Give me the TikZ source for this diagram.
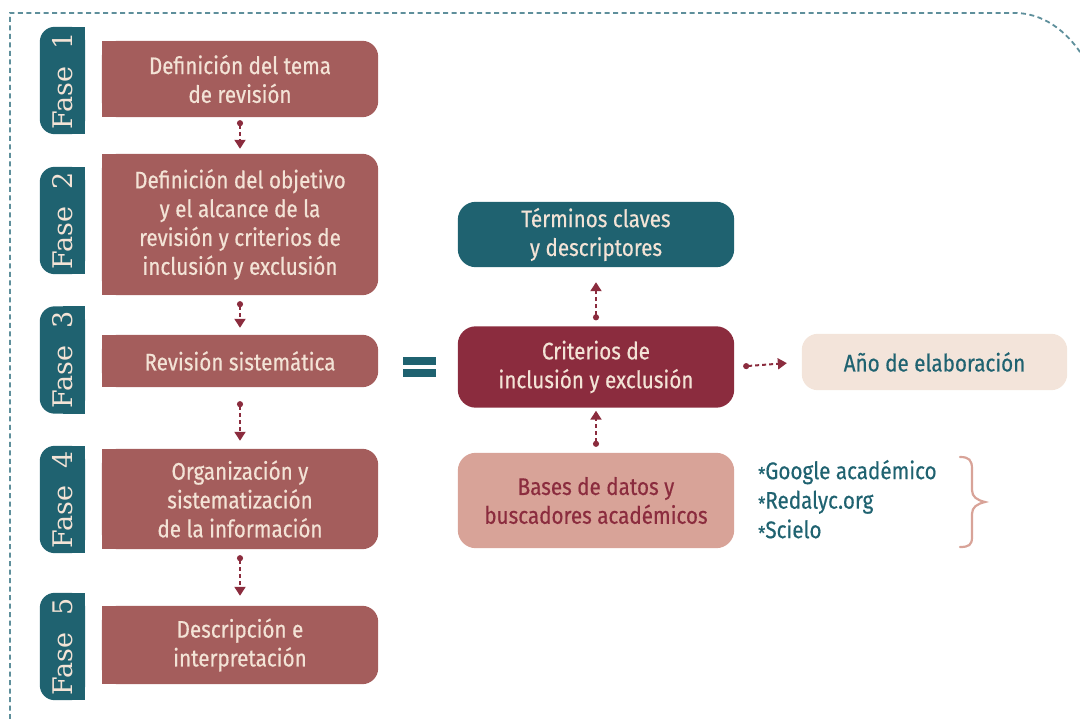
\documentclass[tikz,border=0pt]{standalone}
\usepackage{fontspec}
\setmainfont{Fira Sans}[FakeStretch=0.86,FakeBold=0.5]
\newfontfamily\fasefont{DejaVu Serif}
\usetikzlibrary{arrows.meta}
\definecolor{boxc}{HTML}{A45D5C}
\definecolor{tabc}{HTML}{1F6270}
\definecolor{cream}{HTML}{F3E3D6}
\definecolor{darkred}{HTML}{8B2C3E}
\definecolor{pinkc}{HTML}{D8A398}
\definecolor{beige}{HTML}{F3E4DA}
\definecolor{borderc}{HTML}{5E8F9B}
\pgfdeclarelayer{bg}
\pgfsetlayers{bg,main}
\newcommand\leftsquarefill[3]{\begin{pgfonlayer}{bg}\fill[#2,rounded corners=#3] (#1.north west) rectangle (#1.south east);\fill[#2] (#1.north west) rectangle ([xshift=30pt]#1.south west);\end{pgfonlayer}}
\newcommand\rightsquarefill[3]{\begin{pgfonlayer}{bg}\fill[#2,rounded corners=#3] (#1.north west) rectangle (#1.south east);\fill[#2] (#1.north east) rectangle ([xshift=-22pt]#1.south east);\end{pgfonlayer}}
\newcommand\roundfill[3]{\begin{pgfonlayer}{bg}\fill[#2,rounded corners=#3] (#1.north west) rectangle (#1.south east);\end{pgfonlayer}}
\newcommand\myast{\raisebox{-0.15ex}{\fontsize{19}{19}\selectfont *}}
\tikzset{
  phtext/.style={text=cream, align=center, inner sep=0pt, minimum width=276pt, font=\fontsize{24}{28.8}\selectfont},
  tabnode/.style={text=cream, inner sep=0pt, minimum width=45pt, minimum height=107pt, font=\fasefont\fontsize{27}{27}\selectfont},
  conn/.style={draw=darkred, line width=2pt, dash pattern=on 4pt off 3pt, {Circle[length=6pt,width=6pt]}-{Triangle[length=9pt,width=11pt]}},
  brace/.style={draw=pinkc, line width=2.2pt, line cap=round},
}
\begin{document}
\begin{tikzpicture}[x=1pt,y=-1pt]
\useasboundingbox (0,0) rectangle (1080,719);
% dashed border
\draw[borderc, line width=1.8pt, dash pattern=on 5pt off 3.5pt] (10,719) -- (10,13) -- (1015,13) .. controls (1042,13) and (1066,30) .. (1082,55);

% phase tabs
\node[tabnode] (t1) at (62.5,80.5) {\rotatebox{90}{Fase\ \ 1}};
\rightsquarefill{t1}{tabc}{15pt}
\node[tabnode] (t2) at (62.5,220.5) {\rotatebox{90}{Fase\ \ 2}};
\rightsquarefill{t2}{tabc}{15pt}
\node[tabnode] (t3) at (62.5,360) {\rotatebox{90}{Fase\ \ 3}};
\rightsquarefill{t3}{tabc}{15pt}
\node[tabnode] (t4) at (62.5,499.5) {\rotatebox{90}{Fase\ \ 4}};
\rightsquarefill{t4}{tabc}{15pt}
\node[tabnode] (t5) at (62.5,646.5) {\rotatebox{90}{Fase\ \ 5}};
\rightsquarefill{t5}{tabc}{15pt}

% phase boxes
\node[phtext, minimum height=76pt] (b1) at (240,79) {Definición del tema\\de revisión};
\leftsquarefill{b1}{boxc}{16pt}
\node[phtext, minimum height=141pt] (b2) at (240,224.5) {Definición del objetivo\\y el alcance de la\\revisión y criterios de\\inclusión y exclusión};
\leftsquarefill{b2}{boxc}{16pt}
\node[phtext, minimum height=52pt] (b3) at (240,361) {Revisión sistemática};
\leftsquarefill{b3}{boxc}{16pt}
\node[phtext, minimum height=100pt] (b4) at (240,499) {Organización y\\sistematización\\de la información};
\leftsquarefill{b4}{boxc}{16pt}
\node[phtext, minimum height=78pt] (b5) at (240,645) {Descripción e\\interpretación};
\leftsquarefill{b5}{boxc}{16pt}

\draw[conn, shorten <=3pt, shorten >=5pt] (b1.south) -- (b2.north);
\draw[conn, shorten <=6pt, shorten >=7pt] (b2.south) -- (b3.north);
\draw[conn, shorten <=14pt, shorten >=8pt] (b3.south) -- (b4.north);
\draw[conn, shorten <=6pt, shorten >=10pt] (b4.south) -- (b5.north);

% equals sign
\fill[tabc] (403,357) rectangle (436,365);
\fill[tabc] (403,369) rectangle (436,377);

% right column
\node[phtext, minimum height=65pt] (kw) at (596,234.5) {Términos claves\\y descriptores};
\roundfill{kw}{tabc}{18pt}
\node[phtext, minimum height=81pt] (cr) at (596,367) {Criterios de\\inclusión y exclusión};
\roundfill{cr}{darkred}{18pt}
\node[phtext, text=darkred, minimum height=95pt] (db) at (596,500.5) {Bases de datos y\\buscadores académicos};
\roundfill{db}{pinkc}{18pt}
\node[phtext, text=tabc, minimum width=265pt, minimum height=56pt] (yr) at (934.5,362) {Año de elaboración};
\roundfill{yr}{beige}{16pt}

\draw[conn, shorten <=6pt, shorten >=15pt] (cr.north) -- (kw.south);
\draw[conn, shorten <=6pt, shorten >=3pt] (db.north) -- (cr.south);
\draw[conn, shorten <=9pt, shorten >=15pt] (cr.east) -- (yr.west);

% list
\node[anchor=west, align=left, text=tabc, inner sep=0pt, font=\fontsize{24}{29.5}\selectfont] (lst) at (758,500) {\myast Google académico\\\myast Redalyc.org\\\myast Scielo};
\draw[brace] (960,457) .. controls (969,457) and (972,460) .. (972,469) -- (972,490) .. controls (972,497) and (977,500) .. (985,502) .. controls (977,504) and (972,507) .. (972,514) -- (972,537) .. controls (972,545) and (969,547) .. (960,547);
\end{tikzpicture}
\end{document}
